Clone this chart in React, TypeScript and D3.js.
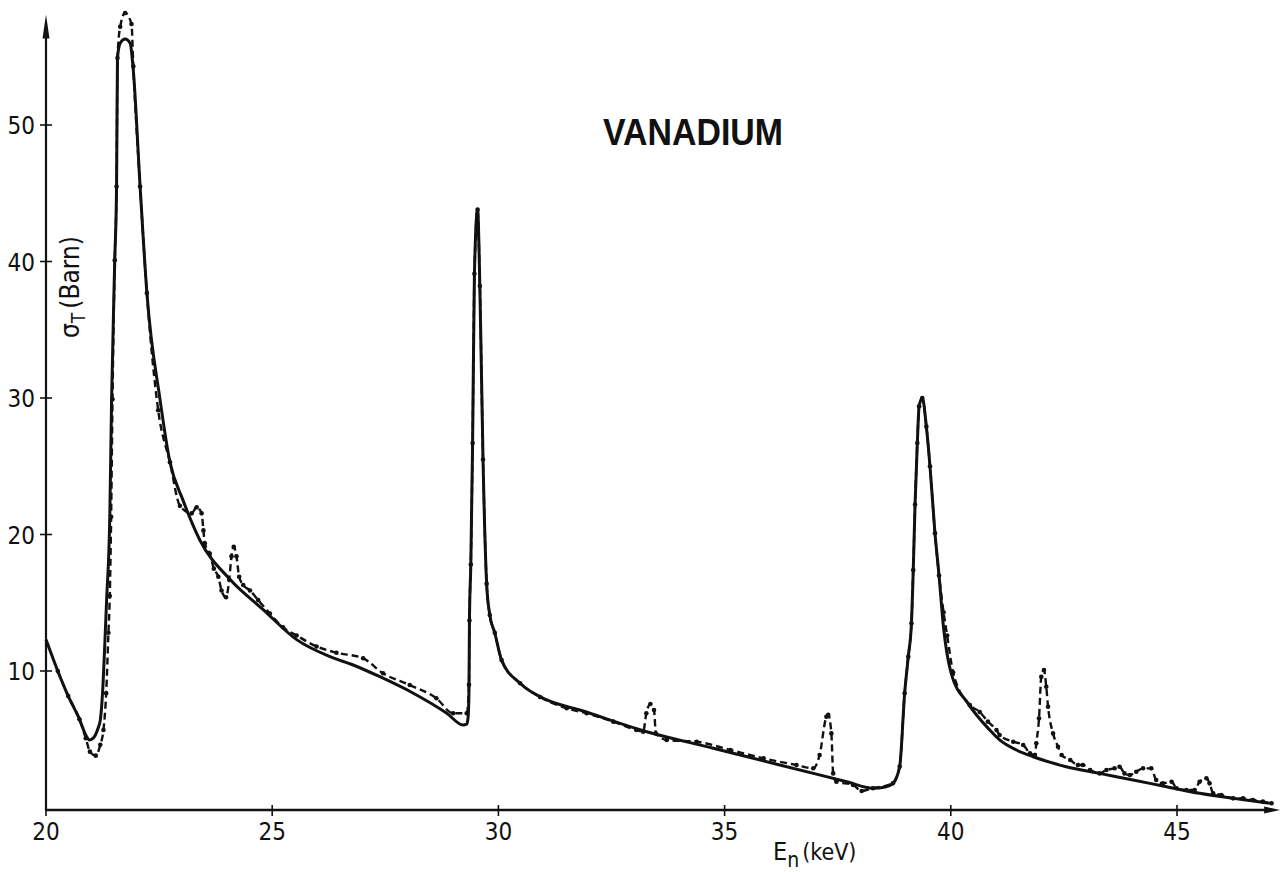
import React from "react";
import * as d3 from "d3";

// x-axis tick values (keV) and y-axis tick values (barn)
const xTicks = [20, 25, 30, 35, 40, 45];
const yTicks = [10, 20, 30, 40, 50];

// Solid (fitted) curve
const solidEnergy = [
  20.0, 20.26, 20.49, 20.74, 20.88, 20.96, 21.05, 21.15, 21.2, 21.26, 21.3, 21.34, 21.41, 21.45,
  21.52, 21.56, 21.58, 21.64, 21.75, 21.86, 21.93, 22.08, 22.23, 22.52, 22.74, 23.03, 23.4, 24.07,
  24.8, 25.54, 26.28, 26.79, 27.38, 28.12, 28.86, 29.22, 29.3, 29.33, 29.35, 29.36, 29.39, 29.43,
  29.47, 29.54, 29.59, 29.66, 29.74, 29.81, 29.92, 30.07, 30.48, 31.06, 31.8, 33.28, 34.75, 36.22,
  37.7, 38.28, 38.55, 38.72, 38.87, 38.98, 39.06, 39.13, 39.17, 39.21, 39.26, 39.3, 39.37, 39.46,
  39.54, 39.65, 39.74, 39.83, 40.01, 40.38, 40.86, 41.08, 41.45, 41.82, 42.55, 43.29, 44.03, 44.77,
  45.5, 46.24, 47.05,
];
const solidSigma = [
  12.3, 10.0, 8.17, 6.46, 5.3, 4.95, 5.1, 5.8, 6.4, 9.0, 12.0, 15.2, 21.3, 29.9,
  40.1, 45.5, 54.9, 56.0, 56.3, 56.0, 54.0, 45.5, 37.7, 29.9, 25.3, 22.5, 19.6, 16.7,
  14.5, 12.3, 11.05, 10.44, 9.58, 8.37, 6.9, 6.04, 6.1, 6.6, 8.6, 13.7, 17.8, 26.7,
  39.1, 43.8, 38.2, 25.5, 16.4, 14.1, 12.8, 10.8, 9.1, 7.9, 7.14, 5.55, 4.34, 3.11,
  1.89, 1.41, 1.5, 1.77, 3.0, 8.37, 11.05, 13.5, 17.4, 22.2, 26.7, 29.4, 30.0, 27.9,
  25.0, 20.1, 17.0, 13.5, 9.83, 7.63, 5.68, 4.95, 4.21, 3.72, 2.99, 2.5, 2.01, 1.52,
  1.04, 0.67, 0.31,
];

// Dashed (measured) curve with data points
const measEnergy = [
  20.26, 20.49, 20.74, 20.88, 20.97, 21.1, 21.2, 21.27, 21.33, 21.38, 21.41, 21.44, 21.47, 21.52,
  21.56, 21.58, 21.64, 21.75, 21.89, 21.93, 22.08, 22.23, 22.48, 22.74, 22.96, 23.22, 23.33, 23.44,
  23.48, 23.51, 23.62, 23.71, 23.81, 23.88, 23.98, 24.05, 24.1, 24.15, 24.21, 24.27, 24.36, 24.51,
  24.69, 24.95, 25.24, 25.54, 25.98, 26.42, 27.01, 27.45, 28.04, 28.63, 29.0, 29.3, 29.35, 29.36,
  29.39, 29.43, 29.47, 29.54, 29.59, 29.66, 29.74, 29.81, 29.92, 30.07, 30.48, 30.92, 31.51, 31.95,
  32.54, 33.05, 33.2, 33.27, 33.36, 33.44, 33.48, 33.72, 34.38, 35.13, 35.86, 36.59, 36.96, 37.1,
  37.25, 37.29, 37.36, 37.4, 37.47, 37.84, 38.03, 38.28, 38.72, 38.87, 38.98, 39.06, 39.13, 39.17,
  39.21, 39.26, 39.3, 39.37, 39.46, 39.54, 39.65, 39.74, 39.84, 39.92, 40.05, 40.42, 40.64, 40.82,
  41.01, 41.08, 41.38, 41.6, 41.75, 41.86, 41.89, 41.95, 42.0, 42.06, 42.11, 42.15, 42.26, 42.37,
  42.45, 42.64, 42.81, 42.92, 43.08, 43.29, 43.44, 43.62, 43.73, 43.84, 43.96, 44.1, 44.25, 44.43,
  44.54, 44.69, 44.88, 44.99, 45.21, 45.39, 45.5, 45.65, 45.72, 45.8, 45.98, 46.24, 46.46, 46.68,
  46.9, 47.09,
];
const measSigma = [
  10.0, 8.17, 6.46, 5.07, 4.09, 3.8, 4.6, 5.68, 8.37, 12.8, 15.5, 21.3, 29.9, 40.1,
  45.5, 54.9, 57.2, 58.2, 57.4, 54.3, 45.5, 37.7, 29.1, 25.3, 22.1, 21.55, 22.0, 21.55,
  20.3, 19.35, 18.6, 17.5, 16.9, 15.9, 15.4, 16.7, 18.4, 19.1, 18.4, 16.9, 16.3, 15.9,
  15.2, 14.2, 13.2, 12.6, 11.8, 11.34, 10.93, 9.83, 8.97, 8.0, 6.9, 6.9, 9.0, 13.7,
  17.8, 26.7, 39.1, 43.8, 38.2, 25.5, 16.4, 14.1, 12.8, 10.8, 9.1, 8.1, 7.27, 6.9,
  6.29, 5.68, 5.55, 6.9, 7.58, 7.14, 5.43, 4.95, 4.82, 4.21, 3.6, 3.11, 2.87, 3.85,
  6.65, 6.8, 5.43, 2.5, 1.89, 1.65, 1.21, 1.41, 1.77, 3.0, 8.37, 11.05, 13.5, 17.4,
  22.2, 26.7, 29.4, 30.0, 27.9, 25.0, 20.1, 17.0, 14.3, 12.6, 9.9, 7.5, 7.0, 6.29,
  5.68, 5.31, 4.82, 4.58, 3.97, 3.85, 4.7, 6.53, 9.58, 10.07, 8.85, 7.38, 5.43, 4.45,
  3.85, 3.48, 3.11, 3.11, 2.75, 2.5, 2.75, 2.87, 2.99, 2.5, 2.38, 2.62, 2.87, 2.87,
  2.01, 1.77, 1.89, 1.41, 1.28, 1.28, 1.89, 2.14, 1.77, 1.04, 0.92, 0.67, 0.67, 0.55,
  0.43, 0.31,
];

const W = 1285;
const H = 872;
const FONT = "'DejaVu Sans Condensed', 'Liberation Sans Narrow', 'Liberation Sans', Arial, sans-serif";

export default function App() {
  const x = d3.scaleLinear().domain([20, 45]).range([46, 1177]);
  const y = d3.scaleLinear().domain([0, 50]).range([807.5, 125]);
  const axisY = 810;
  const x0 = x(20);
  const xEnd = x(47.28);
  const yTop = y(58.1);

  const solidPts: [number, number][] = solidEnergy.map((e, i) => [e, solidSigma[i]]);
  const measPts: [number, number][] = measEnergy.map((e, i) => [e, measSigma[i]]);

  const line = d3
    .line<[number, number]>()
    .x((d) => x(d[0]))
    .y((d) => y(d[1]))
    .curve(d3.curveMonotoneX);

  return (
    <svg
      width={W}
      height={H}
      viewBox={`0 0 ${W} ${H}`}
      style={{ position: "absolute", left: 0, top: 0, background: "#ffffff" }}
    >
      <rect x={0} y={0} width={W} height={H} fill="#ffffff" />

      {/* axes */}
      <line x1={x0} y1={axisY} x2={xEnd - 8} y2={axisY} stroke="#111" strokeWidth={2.6} />
      <path
        d={`M${xEnd},${axisY} L${xEnd - 16},${axisY - 3.5} L${xEnd - 16},${axisY + 3.5} Z`}
        fill="#111"
      />
      <line x1={x0} y1={axisY + 1} x2={x0} y2={yTop + 10} stroke="#111" strokeWidth={2.2} />
      <path
        d={`M${x0},${yTop} L${x0 - 3.5},${yTop + 24} L${x0 + 3.5},${yTop + 24} Z`}
        fill="#111"
      />

      {xTicks.map((t) => (
        <g key={`xt${t}`}>
          <line x1={x(t)} x2={x(t)} y1={axisY - 5} y2={axisY + 6} stroke="#111" strokeWidth={1.6} />
          <text
            x={x(t)}
            y={axisY + 30}
            textAnchor="middle"
            fontFamily={FONT}
            fontSize={24}
            fill="#111"
          >
            {t}
          </text>
        </g>
      ))}
      {yTicks.map((t) => (
        <g key={`yt${t}`}>
          <line x1={x0 - 6} x2={x0 + 6} y1={y(t)} y2={y(t)} stroke="#111" strokeWidth={1.6} />
          <text
            x={x0 - 11}
            y={y(t) + 9}
            textAnchor="end"
            fontFamily={FONT}
            fontSize={24}
            fill="#111"
          >
            {t}
          </text>
        </g>
      ))}

      {/* axis titles */}
      <text x={773} y={860} fontFamily={FONT} fontSize={25} fill="#111">
        E
        <tspan fontSize={21} dy={7}>n</tspan>
        <tspan fontSize={23} dy={-7} dx={3}>(keV)</tspan>
      </text>
      <text
        transform={`translate(79, 338) rotate(-90)`}
        fontFamily={FONT}
        fontSize={26}
        fill="#111"
      >
        σ
        <tspan fontSize={19} dy={6}>T</tspan>
        <tspan dy={-6} dx={4}>(Barn)</tspan>
      </text>

      {/* title */}
      <text
        x={603}
        y={145}
        fontFamily="'Liberation Sans', Arial, sans-serif"
        fontWeight="bold"
        fontSize={37}
        textLength={180}
        lengthAdjust="spacingAndGlyphs"
        fill="#111"
      >
        VANADIUM
      </text>

      {/* measured dashed curve */}
      <path
        d={line(measPts) || ""}
        fill="none"
        stroke="#111"
        strokeWidth={2.4}
        strokeDasharray="7,4"
      />
      {measPts.map((d, i) => (
        <circle key={`m${i}`} cx={x(d[0])} cy={y(d[1])} r={2.3} fill="#111" />
      ))}

      {/* fitted solid curve */}
      <path d={line(solidPts) || ""} fill="none" stroke="#111" strokeWidth={3} strokeLinejoin="round" />
    </svg>
  );
}
